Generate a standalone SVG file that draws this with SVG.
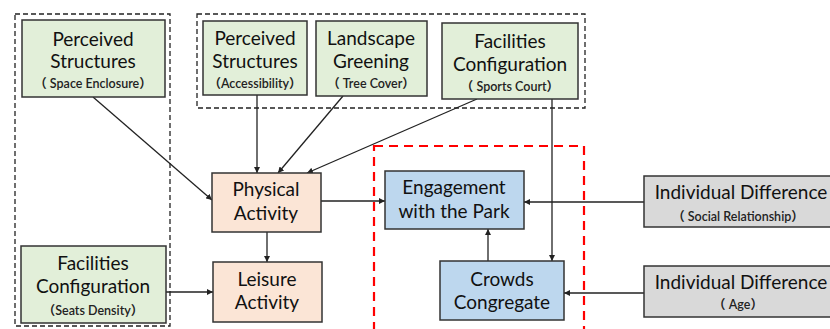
<svg xmlns="http://www.w3.org/2000/svg" width="830" height="329" viewBox="0 0 830 329">
<defs>
<marker id="ah" viewBox="0 0 10 10" refX="10" refY="5" markerWidth="6" markerHeight="6" markerUnits="userSpaceOnUse" orient="auto">
<path d="M0,0 L10,5 L0,10 z" fill="#222"/>
</marker>
<style>
.box{stroke:#333;stroke-width:1.5}
.g{fill:#e2efd9}.o{fill:#fbe5d6}.b{fill:#bdd7ee}.gr{fill:#d9d9d9}
.t{font-family:Lato,"Open Sans","Noto Sans CJK SC",sans-serif;font-size:19px;fill:#111;text-anchor:middle}
.s{font-family:Lato,"Open Sans","Noto Sans CJK SC",sans-serif;font-size:12.5px;font-weight:600;fill:#222;text-anchor:middle}
.dash{fill:none;stroke:#222;stroke-width:1.3;stroke-dasharray:5,3}
.red{fill:none;stroke:#ff0000;stroke-width:2.2;stroke-dasharray:9,6}
.c{fill:none;stroke:#222;stroke-width:1.3;marker-end:url(#ah)}
</style>
</defs>
<rect width="830" height="329" fill="#fff"/>
<rect class="dash" x="15" y="14" width="155" height="312"/>
<rect class="dash" x="197" y="14" width="388" height="94"/>
<rect class="red" x="374" y="146" width="210" height="190"/>

<g id="connectors">
<path class="c" d="M93,97 L212,200"/>
<path class="c" d="M257,95 L257,173"/>
<path class="c" d="M343,96 L278,173"/>
<path class="c" d="M477,99 L307,173"/>
<path class="c" d="M552,99 L552,261"/>
<path class="c" d="M321,201 L385,201"/>
<path class="c" d="M267,232 L267,262"/>
<path class="c" d="M166,292 L213,292"/>
<path class="c" d="M488,261 L488,229"/>
<path class="c" d="M644,202 L524,202"/>
<path class="c" d="M644,293 L564,293"/>
</g>

<g id="n-space">
<rect class="box g" x="22" y="20" width="143" height="77"/>
<text class="t" x="93" y="46">Perceived</text>
<text class="t" x="93" y="68">Structures</text>
<text class="s" x="93" y="88">（ Space Enclosure）</text>
</g>
<g id="n-access">
<rect class="box g" x="203" y="21" width="104" height="74"/>
<text class="t" x="255" y="45">Perceived</text>
<text class="t" x="255" y="68">Structures</text>
<text class="s" x="255" y="88">（Accessibility）</text>
</g>
<g id="n-green">
<rect class="box g" x="316" y="21" width="111" height="75"/>
<text class="t" x="371" y="45">Landscape</text>
<text class="t" x="371" y="68">Greening</text>
<text class="s" x="371" y="88">（ Tree Cover）</text>
</g>
<g id="n-sports">
<rect class="box g" x="442" y="23" width="136" height="76"/>
<text class="t" x="510" y="48">Facilities</text>
<text class="t" x="510" y="71">Configuration</text>
<text class="s" x="510" y="91">（ Sports Court）</text>
</g>
<g id="n-seats">
<rect class="box g" x="21" y="246" width="145" height="77"/>
<text class="t" x="93" y="270">Facilities</text>
<text class="t" x="93" y="293">Configuration</text>
<text class="s" x="93" y="315">（Seats Density）</text>
</g>
<g id="n-physical">
<rect class="box o" x="212" y="173" width="109" height="59"/>
<text class="t" x="266" y="196">Physical</text>
<text class="t" x="266" y="220">Activity</text>
</g>
<g id="n-leisure">
<rect class="box o" x="213" y="262" width="109" height="60"/>
<text class="t" x="267" y="286">Leisure</text>
<text class="t" x="267" y="309">Activity</text>
</g>
<g id="n-engage">
<rect class="box b" x="385" y="171" width="139" height="58"/>
<text class="t" x="454" y="194">Engagement</text>
<text class="t" x="454" y="218">with the Park</text>
</g>
<g id="n-crowds">
<rect class="box b" x="440" y="261" width="124" height="59"/>
<text class="t" x="502" y="286">Crowds</text>
<text class="t" x="502" y="309">Congregate</text>
</g>
<g id="n-social">
<rect class="box gr" x="644" y="176" width="192" height="51"/>
<text class="t" x="741" y="199">Individual Difference</text>
<text class="s" x="738" y="221">（ Social Relationship）</text>
</g>
<g id="n-age">
<rect class="box gr" x="644" y="266" width="192" height="51"/>
<text class="t" x="741" y="289">Individual Difference</text>
<text class="s" x="738" y="309">（ Age）</text>
</g>
</svg>
